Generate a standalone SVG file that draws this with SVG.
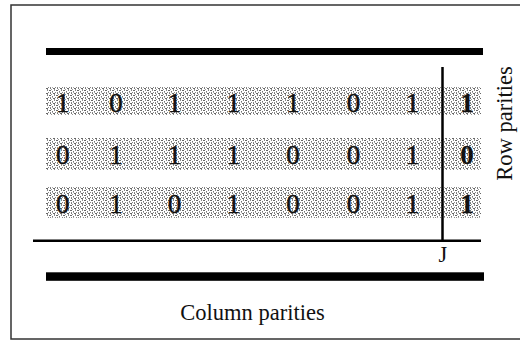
<svg xmlns="http://www.w3.org/2000/svg" width="520" height="341" viewBox="0 0 520 341">
<style>
.d{font-family:"Liberation Serif","Times New Roman",serif;font-size:27px;fill:#111;stroke:#111;stroke-width:0.5;text-anchor:middle}
.b{font-weight:bold;stroke-width:0.3}
.lbl{font-family:"Liberation Serif","Times New Roman",serif;font-size:22.5px;fill:#111}
</style>
<defs>
<pattern id="speck" width="7" height="5" patternUnits="userSpaceOnUse">
<rect x="0" y="0" width="2" height="1" fill="#666"/>
<rect x="3" y="1" width="1" height="1" fill="#777"/>
<rect x="5" y="0" width="1" height="1" fill="#888"/>
<rect x="1" y="2" width="1" height="1" fill="#888"/>
<rect x="1" y="3" width="1" height="1" fill="#777"/>
<rect x="4" y="3" width="2" height="1" fill="#666"/>
<rect x="6" y="2" width="1" height="1" fill="#888"/>
<rect x="2" y="4" width="1" height="1" fill="#999"/>
<rect x="5" y="4" width="1" height="1" fill="#888"/>
<rect x="3" y="2" width="1" height="1" fill="#aaa"/>
</pattern>
</defs>
<rect x="0" y="0" width="520" height="341" fill="#fff"/>
<rect x="11" y="5" width="520" height="334" fill="none" stroke="#333" stroke-width="1.5"/>
<g id="shading">
<rect x="46" y="87" width="435" height="28" fill="url(#speck)"/>
<rect x="46" y="138" width="435" height="32" fill="url(#speck)"/>
<rect x="46" y="187" width="435" height="31" fill="url(#speck)"/>
</g>
<g id="row1">
<text class="d" x="62.7" y="111.5">1</text><text class="d" x="116" y="111.5">0</text><text class="d" x="174.5" y="111.5">1</text><text class="d" x="233.5" y="111.5">1</text><text class="d" x="293" y="111.5">1</text><text class="d" x="353.5" y="111.5">0</text><text class="d" x="412.5" y="111.5">1</text><text class="d b" x="467" y="111.5">1</text>
</g>
<g id="row2">
<text class="d" x="62.7" y="163.5">0</text><text class="d" x="116" y="163.5">1</text><text class="d" x="174.5" y="163.5">1</text><text class="d" x="233.5" y="163.5">1</text><text class="d" x="293" y="163.5">0</text><text class="d" x="353.5" y="163.5">0</text><text class="d" x="412.5" y="163.5">1</text><text class="d b" x="467" y="163.5">0</text>
</g>
<g id="row3">
<text class="d" x="62.7" y="213">0</text><text class="d" x="116" y="213">1</text><text class="d" x="174.5" y="213">0</text><text class="d" x="233.5" y="213">1</text><text class="d" x="293" y="213">0</text><text class="d" x="353.5" y="213">0</text><text class="d" x="412.5" y="213">1</text><text class="d b" x="467" y="213">1</text>
</g>
<g id="connectors">
<rect x="46" y="48" width="437" height="7" fill="#000"/>
<rect x="46" y="272.3" width="438" height="8.5" fill="#000"/>
<line x1="442.5" y1="67" x2="442.5" y2="241" stroke="#000" stroke-width="2.5"/>
<line x1="33" y1="240.8" x2="481" y2="240.8" stroke="#000" stroke-width="2.5"/>
</g>
<g id="labels">
<text class="lbl" x="443" y="262" text-anchor="middle">J</text>
<text class="lbl" x="252.5" y="320" text-anchor="middle">Column parities</text>
<text class="lbl" transform="translate(512,123.5) rotate(-90)" text-anchor="middle">Row parities</text>
</g>
</svg>
